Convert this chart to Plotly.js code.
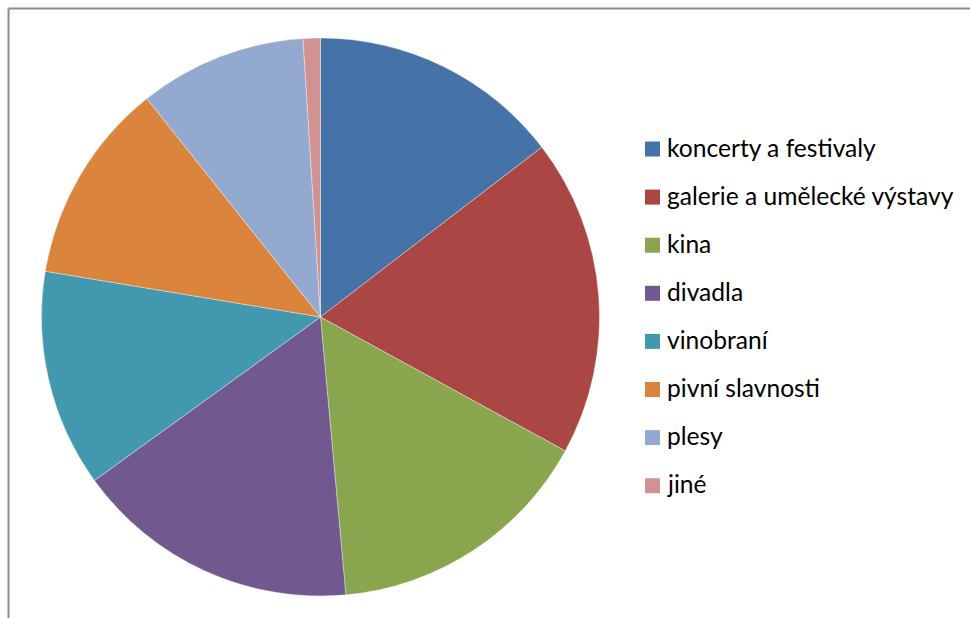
<!DOCTYPE html>
<html>
<head>
<meta charset="utf-8">
<script src="https://cdn.plot.ly/plotly-3.0.1.min.js"></script>
<style>
html,body{margin:0;padding:0;background:#fff;}
#chart{width:970px;height:618px;}
</style>
</head>
<body>
<div id="chart"></div>
<script>
var categories = ['koncerty a festivaly','galerie a umělecké výstavy','kina','divadla','vinobraní','pivní slavnosti','plesy','jiné'];
var values = [14.6, 18.4, 15.6, 16.5, 12.6, 11.7, 9.7, 1.0];
var colors = ['#4572A7','#AA4643','#89A54E','#71588F','#4198AF','#DB843D','#93A9CF','#D19392'];

var W = 970, H = 618;
function px(x){ return x / W; }
function py(y){ return 1 - y / H; }

var shapes = [
  {type:'line', xref:'paper', yref:'paper', x0:px(8.5), x1:px(8.5), y0:0, y1:py(8.5), line:{color:'#8c8c8c', width:2}},
  {type:'line', xref:'paper', yref:'paper', x0:px(8.5), x1:1, y0:py(8.5), y1:py(8.5), line:{color:'#8c8c8c', width:2}}
];
var annotations = [];
var legendTop = 149, legendStep = 48.1;
categories.forEach(function(c, i){
  var cy = legendTop + i * legendStep;
  shapes.push({type:'rect', xref:'paper', yref:'paper',
    x0:px(645), x1:px(660), y0:py(cy+7.5), y1:py(cy-7.5),
    fillcolor:colors[i], line:{width:0}});
  annotations.push({xref:'paper', yref:'paper', x:px(665), y:py(cy-2),
    xanchor:'left', yanchor:'middle', showarrow:false, text:c,
    font:{family:'Lato, "Open Sans", sans-serif', size:24.6, color:'#000'}});
});

var data = [{
  type:'pie',
  labels:categories,
  values:values,
  sort:false,
  direction:'clockwise',
  rotation:0,
  textinfo:'none',
  marker:{colors:colors, line:{color:'rgba(255,255,255,0.6)', width:0.6}},
  domain:{x:[px(41.5), px(599.5)], y:[py(596), py(38)]},
  showlegend:false
}];

var layout = {
  width:W, height:H,
  margin:{l:0, r:0, t:0, b:0},
  paper_bgcolor:'#fff',
  showlegend:false,
  shapes:shapes,
  annotations:annotations
};
Plotly.newPlot('chart', data, layout, {displayModeBar:false, staticPlot:true});
</script>
</body>
</html>
